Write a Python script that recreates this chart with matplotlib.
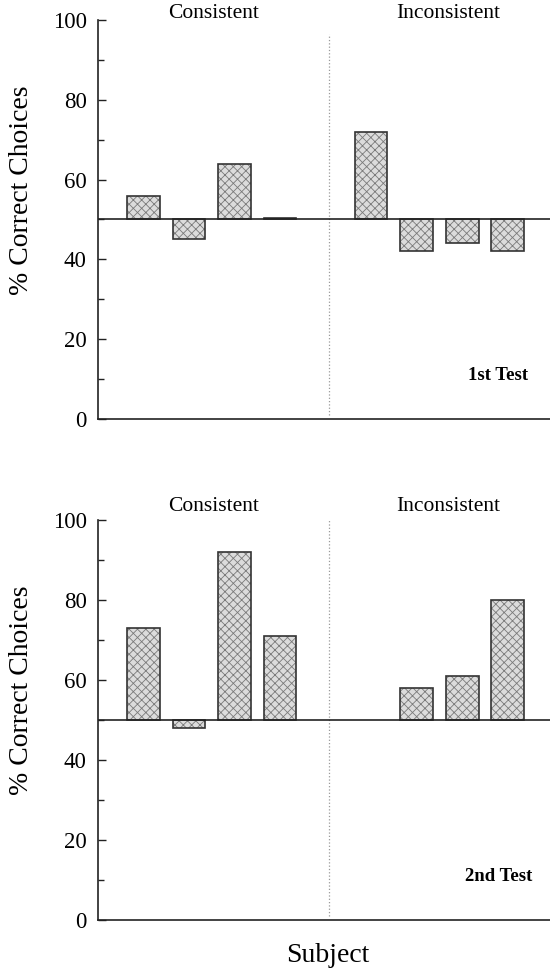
import matplotlib
matplotlib.use('Agg')
import matplotlib.pyplot as plt
import numpy as np

plt.rcParams['font.family'] = ['Liberation Serif', 'DejaVu Serif']
plt.rcParams['hatch.linewidth'] = 0.6

# subject positions: 4 consistent, gap, 4 inconsistent
consistent_x = [1, 2, 3, 4]
inconsistent_x = [6, 7, 8, 9]

test1_consistent = [56, 45, 64, 50.3]
test1_inconsistent = [72, 42, 44, 42]
test2_consistent = [73, 48, 92, 71]
test2_inconsistent = [np.nan, 58, 61, 80]

panels = [
    ('1st Test', test1_consistent, test1_inconsistent),
    ('2nd Test', test2_consistent, test2_inconsistent),
]

chance = 50
yticks = [0, 20, 40, 60, 80, 100]
yminor = [10, 30, 50, 70, 90]

fig = plt.figure(figsize=(5.5, 9.74), dpi=100)
ax_top = fig.add_axes([0.178, 0.5698, 0.822, 0.4097])
ax_bot = fig.add_axes([0.178, 0.0554, 0.822, 0.4107])

for ax, (name, cons, incons), lab_y, div_top in [
        (ax_top, panels[0], 101.5, 96.5), (ax_bot, panels[1], 103.3, 100)]:
    xs = consistent_x + inconsistent_x
    vals = np.array(cons + incons, dtype=float)
    heights = vals - chance
    # textured fill
    ax.bar(xs, heights, width=0.72, bottom=chance, color='#dcdcdc',
           hatch='xxxx', edgecolor='#7a7a7a', linewidth=0, zorder=2)
    # outline
    ax.bar(xs, heights, width=0.72, bottom=chance, fill=False,
           edgecolor='#333333', linewidth=1.2, zorder=3)
    ax.axhline(chance, color='#222222', linewidth=1.2, zorder=4)
    ax.plot([5.08, 5.08], [1, div_top], color='#999999', linestyle=':',
            linewidth=0.9, zorder=1)

    ax.set_xlim(0, 9.93)
    ax.set_ylim(0, 100)
    ax.set_yticks(yticks)
    ax.set_yticks(yminor, minor=True)
    ax.set_xticks([])
    ax.tick_params(axis='y', which='major', direction='in', length=6, width=1,
                   labelsize=16.5, color='#222222', pad=8)
    ax.tick_params(axis='y', which='minor', direction='in', length=4,
                   width=1, color='#222222')
    for s in ['top', 'right']:
        ax.spines[s].set_visible(False)
    for s in ['left', 'bottom']:
        ax.spines[s].set_linewidth(1.2)
        ax.spines[s].set_color('#222222')

    ax.text(2.55, lab_y, 'Consistent', ha='center', va='center',
            fontsize=15.5, clip_on=False)
    ax.text(7.7, lab_y, 'Inconsistent', ha='center', va='center',
            fontsize=15.5, clip_on=False)
    ax.text(8.8, 10.8, name, ha='center', va='center', fontsize=13.5,
            fontweight='bold')

fig.text(22 / 550, 1 - 190 / 974, '% Correct Choices', rotation=90,
         ha='center', va='center', fontsize=20)
fig.text(22 / 550, 1 - 690 / 974, '% Correct Choices', rotation=90,
         ha='center', va='center', fontsize=20)
fig.text(328 / 550, 1 - 955 / 974, 'Subject', ha='center', va='center',
         fontsize=20)

fig.savefig('out.png', dpi=100)
